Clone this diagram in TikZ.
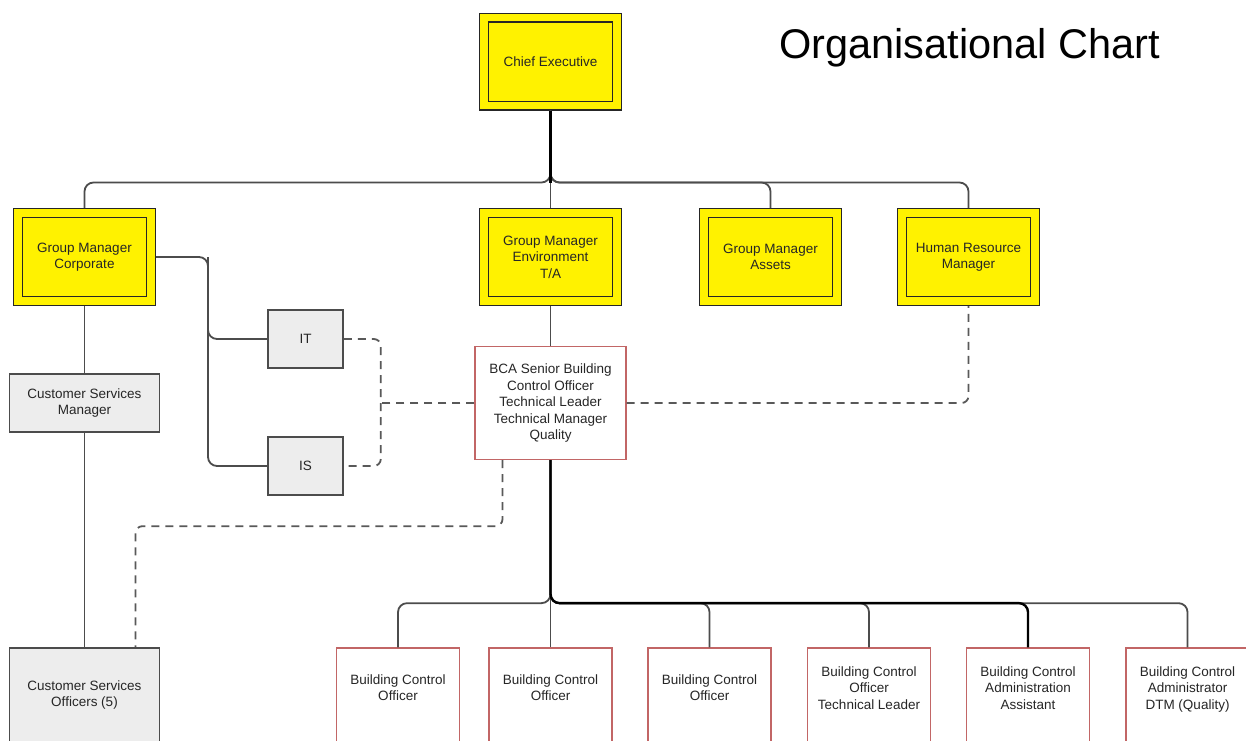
\documentclass[tikz,border=0pt]{standalone}
\usepackage{fontspec}
\setmainfont{Liberation Sans}
\begin{document}
\begin{tikzpicture}[x=1pt,y=-1pt,
  every node/.style={font=\fontsize{13.5}{16.5}\selectfont, text=black!85, align=center, inner sep=0pt},
  ybox/.style={draw=black!85, line width=1.2pt, double=yellow, double distance=7.6pt, fill=yellow, minimum width=133pt, minimum height=88pt, outer sep=5pt},
  gbox/.style={draw=black!70, line width=1.6pt, fill=black!7, minimum width=150pt, minimum height=58pt},
  sbox/.style={draw=black!70, line width=1.6pt, fill=black!7, minimum width=75pt, minimum height=58pt},
  rbox/.style={draw=red!60!black!60, line width=1.3pt, fill=white, minimum width=123pt, minimum height=96pt},
  conn/.style={draw=black!70, line width=1.8pt, rounded corners=9pt},
  thick conn/.style={draw=black, line width=2.4pt, rounded corners=9pt},
  dconn/.style={draw=black!65, line width=1.8pt, dash pattern=on 8pt off 6pt, rounded corners=7pt}
]
\useasboundingbox (0,0) rectangle (1246,740);
\fill[white] (0,0) rectangle (1246,740);

\node[font=\fontsize{41.5}{46}\selectfont, text=black, anchor=west] (title) at (779,48) {Organisational Chart};

\node[ybox] (ce) at (550.5,61.5) {Chief Executive};
\node[ybox] (gmc) at (84.5,257) {Group Manager\\Corporate};
\node[ybox] (gme) at (550.5,257) {Group Manager\\Environment\\T/A};
\node[ybox] (gma) at (770.5,257) {Group Manager\\Assets};
\node[ybox] (hr) at (968.5,257) {Human Resource\\Manager};

\node[sbox] (it) at (305.5,339) {IT};
\node[sbox] (is) at (305.5,466) {IS};
\node[gbox] (csm) at (84.5,403) {Customer Services\\Manager};
\node[gbox, minimum height=94pt] (cso) at (84.5,695) {Customer Services\\Officers (5)};

\node[rbox, minimum width=151pt, minimum height=113pt] (bca) at (550.5,403) {BCA Senior Building\\Control Officer\\Technical Leader\\Technical Manager\\Quality};

\node[rbox] (b1) at (398,696) {Building Control\\Officer\\\mbox{}};
\node[rbox] (b2) at (550.5,696) {Building Control\\Officer\\\mbox{}};
\node[rbox] (b3) at (709.5,696) {Building Control\\Officer\\\mbox{}};
\node[rbox] (b4) at (869,696) {Building Control\\Officer\\Technical Leader\\\mbox{}};
\node[rbox] (b5) at (1028,696) {Building Control\\Administration\\Assistant\\\mbox{}};
\node[rbox] (b6) at (1187.5,696) {Building Control\\Administrator\\DTM (Quality)\\\mbox{}};

% top level connectors
\draw[conn] (ce.south) -- ++(0,72) -| (gmc.north);
\draw[conn] (ce.south) -- ++(0,72) -| (gma.north);
\draw[conn] (ce.south) -- ++(0,72) -| (hr.north);
\draw[conn] (ce.south) -- (gme.north);
\draw[thick conn] (ce.south) -- ++(0,72);

% corporate branch
\draw[conn] (gmc.east) -- ++(52,0) |- (is.west);
\draw[conn] (gmc.east) ++(52,0) |- (it.west);
\draw[conn] (gmc.south) -- (csm.north);
\draw[conn] (csm.south) -- (cso.north);

% environment branch
\draw[conn] (gme.south) -- (bca.north);
\draw[conn] (bca.south) -- ++(0,143) -| (b1.north);
\draw[conn] (bca.south) -- ++(0,143) -| (b3.north);
\draw[conn] (bca.south) -- ++(0,143) -| (b4.north);
\draw[conn] (bca.south) -- ++(0,143) -| (b6.north);
\draw[conn] (bca.south) -- (b2.north);
\draw[thick conn] (bca.south) -- ++(0,143) -| (b5.north);

% dashed links
\draw[dconn] (it.east) -| ++(37,127) -- (is.east);
\draw[dconn] (bca.west) -- ++(-96,0);
\draw[dconn] (bca.east) -| (hr.south);
\coordinate (csotop) at ([xshift=51pt]cso.north);
\draw[dconn] ([xshift=-48pt]bca.south) -- ++(0,66) -| (csotop);
\end{tikzpicture}
\end{document}
